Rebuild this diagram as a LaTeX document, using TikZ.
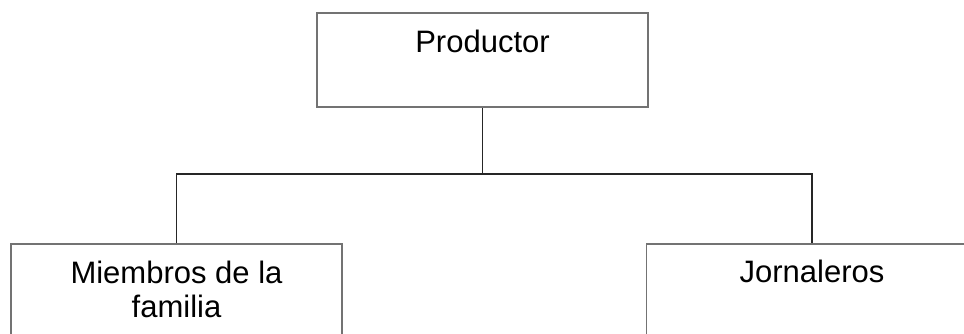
\documentclass[tikz,border=0pt]{standalone}
\usepackage{fontspec}
\setmainfont{Liberation Sans}
\tikzset{
  box/.style={draw=black!55, line width=1.5pt, rectangle, minimum width=331pt, minimum height=94pt, inner sep=0pt},
  lbl/.style={font=\fontsize{31pt}{34pt}\selectfont, inner sep=0pt, align=center, anchor=base},
  conn/.style={draw=black!85, line width=1.2pt}
}
\begin{document}
\begin{tikzpicture}[x=1pt,y=1pt]
\useasboundingbox (0,0) rectangle (964,333);
\clip (0,0) rectangle (964,333);
\node[box] (prod) at (482.5,273) {};
\node[box] (memb) at (176.5,42) {};
\node[box] (jorn) at (812,42) {};
\node[lbl] (prodt) at (482.5,280) {Productor};
\node[lbl] (membt) at (176.5,16) {Miembros de la\\familia};
\node[lbl] (jornt) at (812,51) {Jornaleros};
\coordinate (j) at (482.5,159);
\draw[conn] (prod.south) -- (j);
\draw[conn] (memb.north) |- (j) -| (jorn.north);
\end{tikzpicture}
\end{document}
